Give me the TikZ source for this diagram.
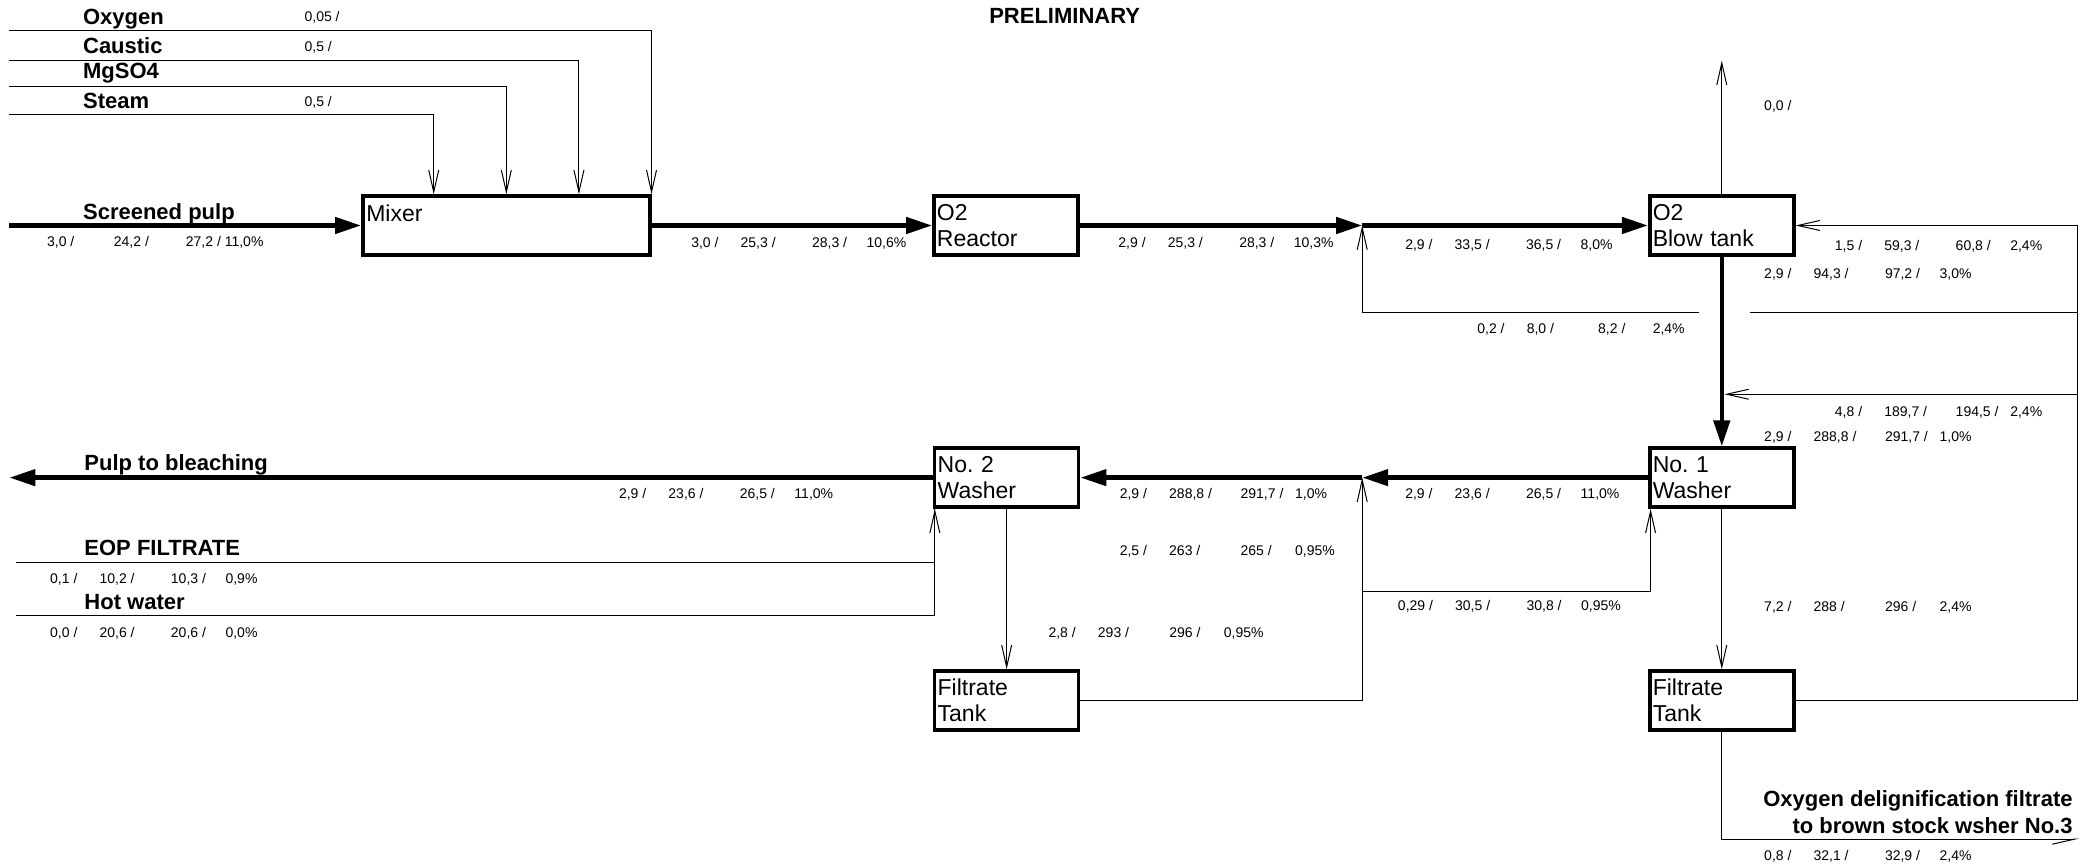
\documentclass[tikz,border=0pt]{standalone}
\usepackage{fontspec}
\setmainfont{Liberation Sans}
\usetikzlibrary{arrows.meta,calc}
\newcommand{\flowvals}[5][24.7pt]{\makebox[#1][l]{#2}\makebox[35.7pt][l]{#3}\makebox[27.3pt][l]{#4}#5}

\begin{document}
\begin{tikzpicture}[
  x=0.6671pt, y=-0.6671pt,
  unit/.style={draw, line width=1.8pt, minimum width=72pt, minimum height=29.4pt, text width=69pt, align=left, inner sep=1.2pt, font=\fontsize{11.5}{12.7}\selectfont},
  main/.style={line width=2.2pt, -{Triangle[length=13pt,width=8pt]}},
  feed/.style={line width=0.5pt, -{Straight Barb[length=11pt,width=5pt]}},
  pipe/.style={line width=0.5pt},
  vals/.style={anchor=base west, inner sep=0pt, font=\fontsize{7}{8}\selectfont},
  strm/.style={anchor=base west, inner sep=0pt, font=\bfseries\fontsize{11}{13.3}\selectfont}
]
\useasboundingbox (0,0) rectangle (1568,649);

\node[unit, minimum width=143.4pt, text width=140pt] (mixer) at (379.5,169) {Mixer\\~};
\node[unit] (reactor) at (754,169) {O2\\Reactor};
\node[unit] (blow) at (1290.5,169) {O2\\Blow tank};
\node[unit] (wash1) at (1290.5,358) {No.\ 1\\Washer};
\node[unit] (wash2) at (754.5,358) {No.\ 2\\Washer};
\node[unit] (ft2) at (754.5,525) {Filtrate\\Tank};
\node[unit] (ft1) at (1290.5,525) {Filtrate\\Tank};

\coordinate (oxy-in) at (6.7,23);
\coordinate (caus-in) at (6.7,45);
\coordinate (mg-in) at (6.7,64.5);
\coordinate (steam-in) at (6.7,85.5);
\coordinate (pulp-in) at (6.7,169);
\coordinate (pulp-out) at (7,358);
\coordinate (eop-in) at (12,421.5);
\coordinate (hot-in) at (12,461.5);
\coordinate (j1) at (1021,169);
\coordinate (j2) at (1021,358);
\coordinate (vent) at (1290.5,45.5);
\coordinate (loop) at (1557,234);
\coordinate (ret1) at (1021,234);
\coordinate (gap-l) at (1273.5,234);
\coordinate (gap-r) at (1311.5,234);
\coordinate (ret2) at (1292.5,295.5);
\coordinate (ret3) at (1021,443);
\coordinate (to-bsw) at (1558,629);

\draw[feed] (oxy-in) -| (mixer.north east);
\draw[feed] (caus-in) -| ($(mixer.north west)!.75!(mixer.north east)$);
\draw[feed] (mg-in) -| (mixer.north);
\draw[feed] (steam-in) -| ($(mixer.north west)!.25!(mixer.north east)$);

\draw[main] (pulp-in) -- (mixer);
\draw[main] (mixer) -- (reactor);
\draw[main] (reactor) -- (j1);
\draw[main] (j1) -- (blow);
\draw[main] (blow) -- (wash1);
\draw[main] (wash1) -- (j2);
\draw[main] (j2) -- (wash2);
\draw[main] (wash2) -- (pulp-out);

\draw[feed] (blow) -- (vent);
\draw[feed] (ft1) -- (ft1 -| loop) -- (blow -| loop) -- (blow);
\draw[pipe] (loop) -- (gap-r);
\draw[feed] (gap-l) -- (ret1) -- (j1);
\draw[feed] (loop |- ret2) -- (ret2);
\draw[feed] (wash1) -- (ft1);
\draw[pipe, -{Straight Barb[harpoon,swap,length=11pt,width=5pt]}] (ft1) -- (ft1 |- to-bsw) -- (to-bsw);
\draw[feed] (wash2) -- (ft2);
\draw[feed] (ft2) -- (ft2 -| j2) -- (j2);
\draw[feed] (ret3) -| ([xshift=1.3pt]wash1.south west);
\draw[feed] (eop-in) -| ([xshift=1pt]wash2.south west);
\draw[pipe] (hot-in) -| ([xshift=1pt]wash2.south west);

\node[vals] (v-oxy) at (228,16) {0,05 /};
\node[vals] (v-caus) at (228,38.7) {0,5 /};
\node[vals] (v-steam) at (228,80) {0,5 /};
\node[vals] (v-pulp) at (35,184.7) {\makebox[33.4pt][l]{3,0 /}\makebox[36pt][l]{24,2 /}27,2 / 11,0\%};
\node[vals] (v-mix) at (517.8,185.7) {\flowvals{3,0 /}{25,3 /}{28,3 /}{10,6\%}};
\node[vals] (v-reac) at (838,185.7) {\flowvals{2,9 /}{25,3 /}{28,3 /}{10,3\%}};
\node[vals] (v-blowin) at (1053,186.7) {\flowvals{2,9 /}{33,5 /}{36,5 /}{8,0\%}};
\node[vals] (v-vent) at (1322,82.5) {0,0 /};
\node[vals] (v-loop) at (1375,187.7) {\flowvals{1,5 /}{59,3 /}{60,8 /}{2,4\%}};
\node[vals] (v-blow) at (1322,209) {\flowvals{2,9 /}{94,3 /}{97,2 /}{3,0\%}};
\node[vals] (v-ret1) at (1107,250) {\flowvals{0,2 /}{8,0 /}{8,2 /}{2,4\%}};
\node[vals] (v-ret2) at (1375,312) {\flowvals{4,8 /}{189,7 /}{194,5 /}{2,4\%}};
\node[vals] (v-w1in) at (1322,331) {\flowvals{2,9 /}{288,8 /}{291,7 /}{1,0\%}};
\node[vals] (v-w1) at (1053,373.4) {\flowvals{2,9 /}{23,6 /}{26,5 /}{11,0\%}};
\node[vals] (v-w2in) at (839,373.5) {\flowvals{2,9 /}{288,8 /}{291,7 /}{1,0\%}};
\node[vals] (v-w2) at (463.7,374) {\flowvals{2,9 /}{23,6 /}{26,5 /}{11,0\%}};
\node[vals] (v-ft2) at (839,416) {\flowvals{2,5 /}{263 /}{265 /}{0,95\%}};
\node[vals] (v-ret3) at (1047.5,457.7) {\flowvals[28.6pt]{0,29 /}{30,5 /}{30,8 /}{0,95\%}};
\node[vals] (v-w2out) at (785.6,477.7) {\flowvals{2,8 /}{293 /}{296 /}{0,95\%}};
\node[vals] (v-w1out) at (1322,458.5) {\flowvals{7,2 /}{288 /}{296 /}{2,4\%}};
\node[vals] (v-bsw) at (1322,645) {\flowvals{0,8 /}{32,1 /}{32,9 /}{2,4\%}};
\node[vals] (v-eop) at (37.3,437.5) {\flowvals{0,1 /}{10,2 /}{10,3 /}{0,9\%}};
\node[vals] (v-hot) at (37.3,478) {\flowvals{0,0 /}{20,6 /}{20,6 /}{0,0\%}};

\node[strm] (l-oxy) at (62,18) {Oxygen};
\node[strm] (l-caus) at (62,40) {Caustic};
\node[strm] (l-mg) at (62,59.2) {MgSO4};
\node[strm] (l-steam) at (62,81.2) {Steam};
\node[strm] (l-pulp) at (62,164.4) {Screened pulp};
\node[strm] (l-bleach) at (63,352.5) {Pulp to bleaching};
\node[strm] (l-eop) at (63,416) {EOP FILTRATE};
\node[strm] (l-hot) at (63,457) {Hot water};
\node[strm, anchor=base] (title) at (798,17.5) {PRELIMINARY};
\node[strm, anchor=south east, align=right] (l-bsw) at (1553.7,625) {Oxygen delignification filtrate\\to brown stock wsher No.3};
\end{tikzpicture}
\end{document}
